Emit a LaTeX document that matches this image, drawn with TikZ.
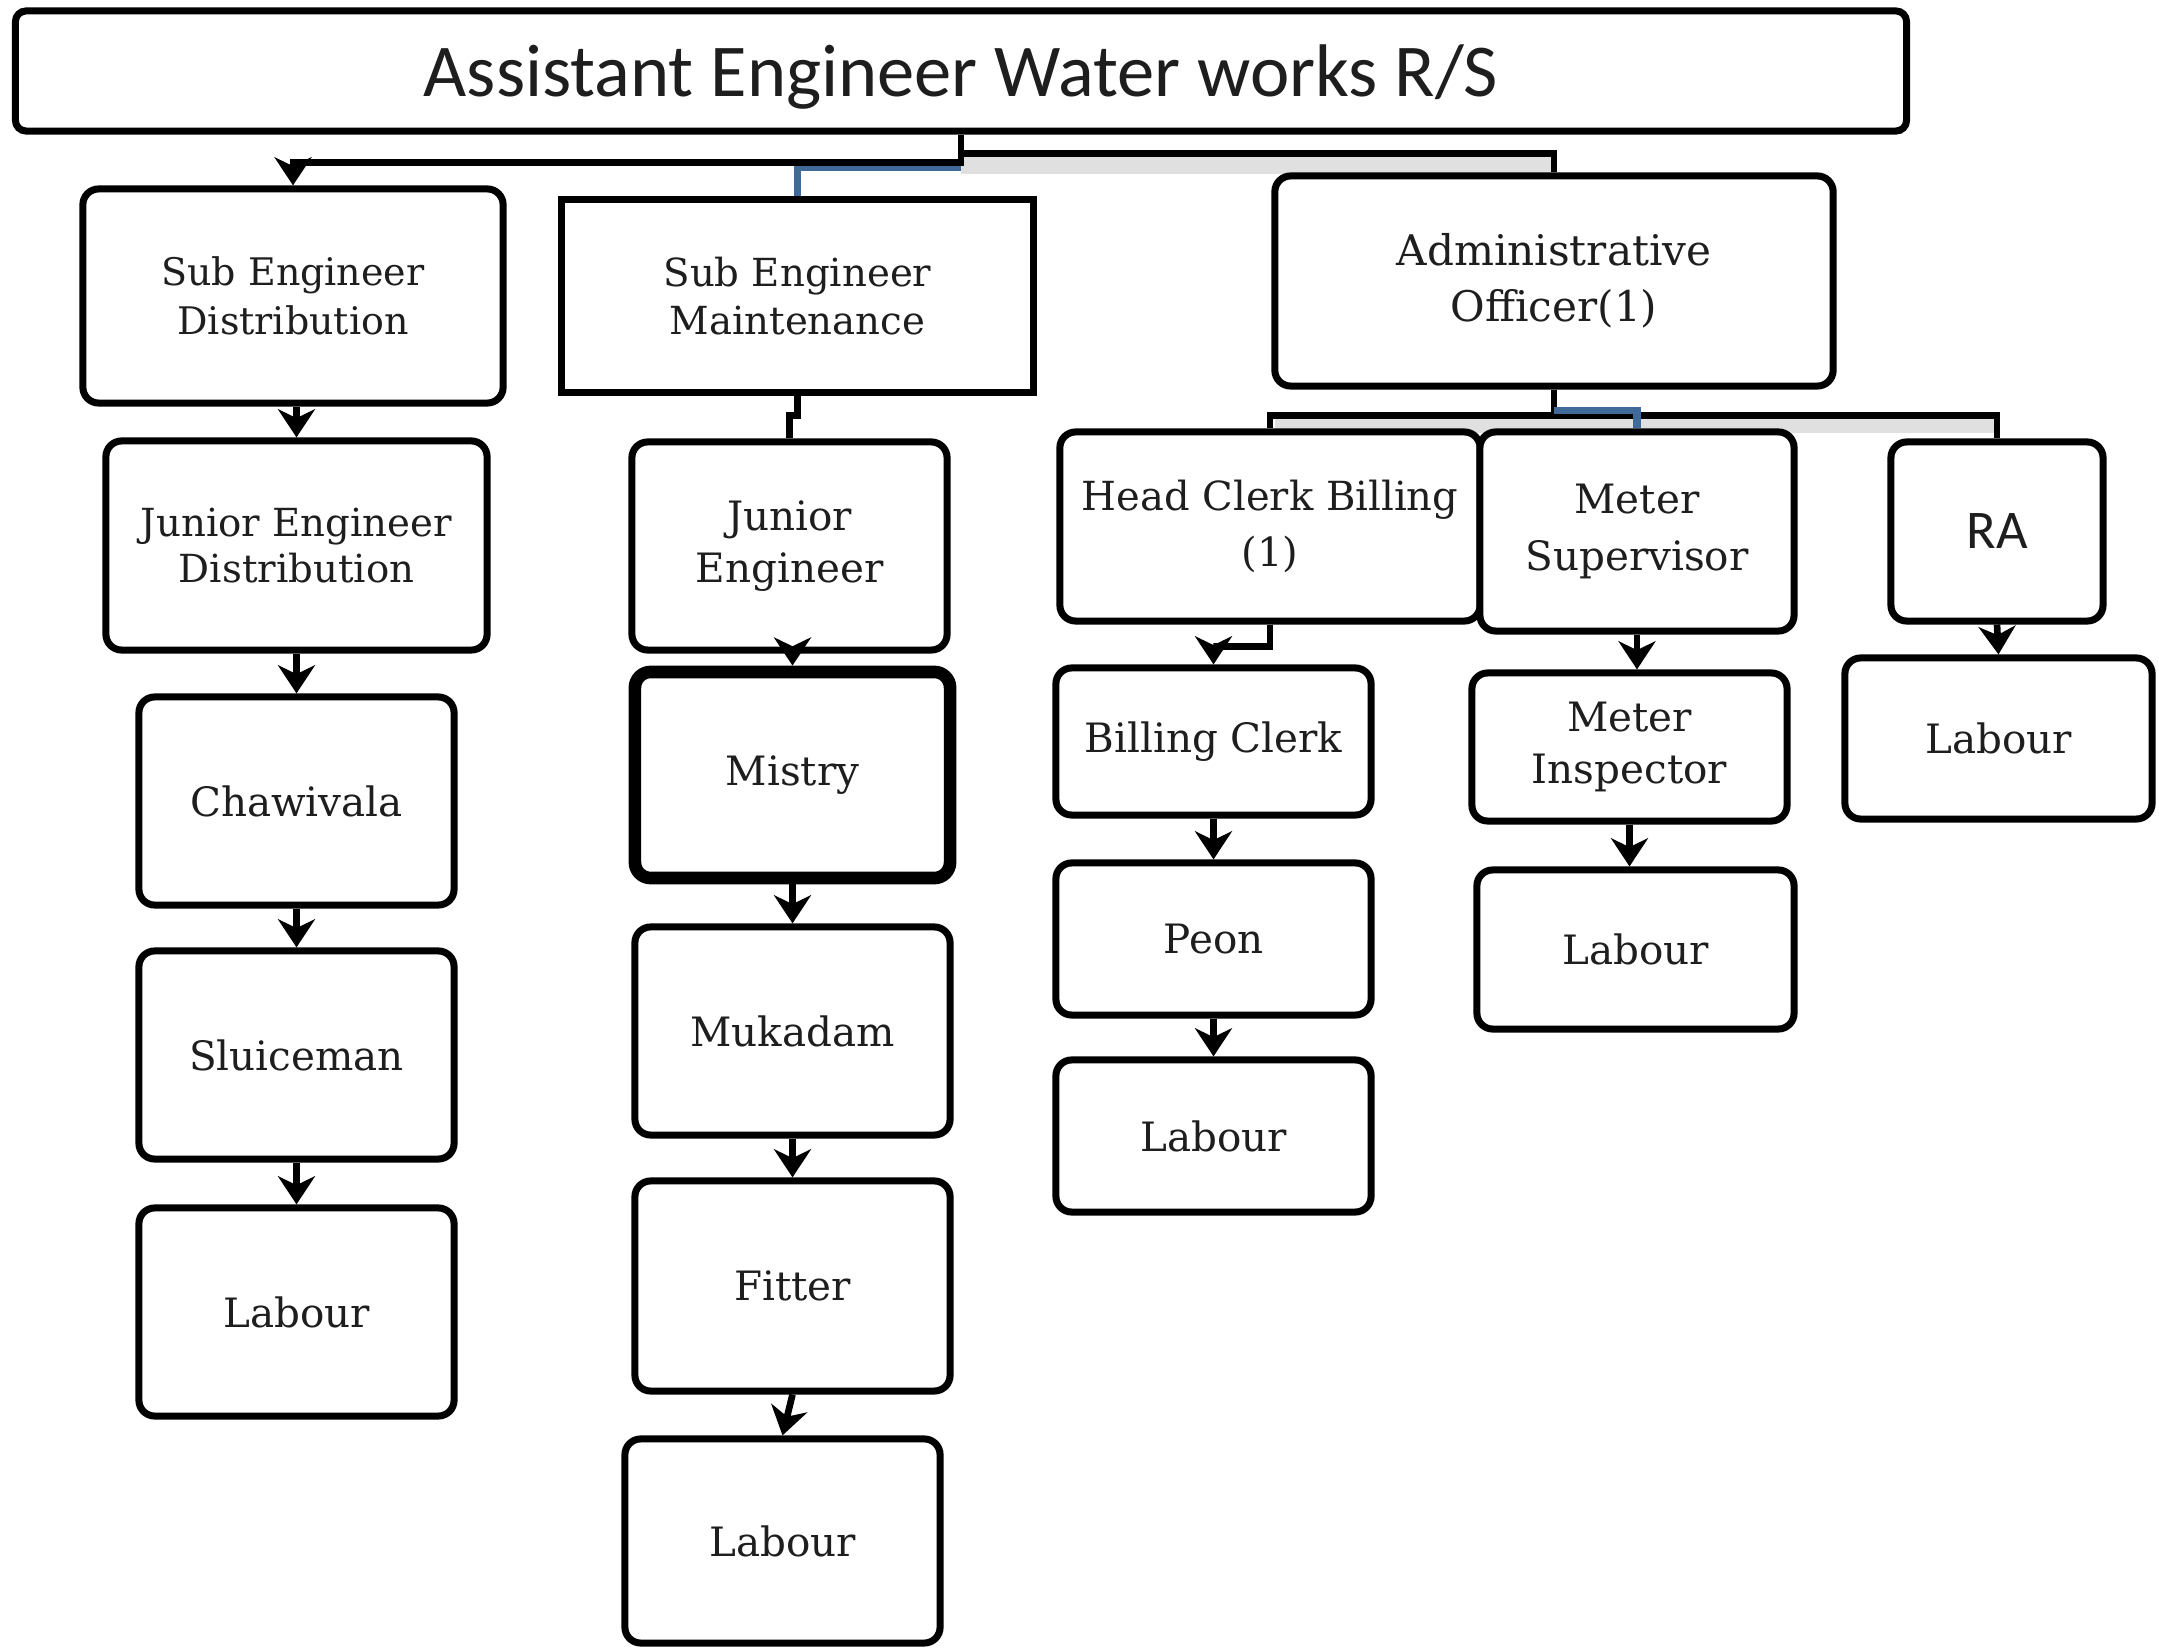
\documentclass[tikz,border=0pt]{standalone}
\usepackage{fontspec}
\setmainfont{DejaVu Serif}
\newfontfamily\calib{Carlito}
\usetikzlibrary{arrows.meta,calc}
\definecolor{refblue}{RGB}{63,106,154}
\definecolor{txt}{RGB}{30,30,30}
\begin{document}
\begin{tikzpicture}[x=0.01cm,y=-0.01cm,
  box/.style={draw,line width=2pt,rounded corners=4.5pt,align=center,inner sep=0pt,fill=white,text=txt,
    font=\fontsize{11.5}{13}\selectfont},
  sharpbox/.style={box,rounded corners=0pt},
  thickbox/.style={box,line width=3.6pt},
  conn/.style={line width=1.9pt},
  arr/.style={conn,-{Stealth[length=8pt,width=10.5pt,inset=2.5pt]}},
  blueline/.style={line width=2.2pt,draw=refblue},
  shade/.style={line width=5pt,draw=black!12}]
\fill[white] (0,0) rectangle (2159,1649);
\useasboundingbox (0,0) rectangle (2159,1649);

% shadows under connectors
\draw[shade] (961,165) -- (1556,165);
\draw[shade] (1275,424) -- (1997,424);

% boxes
\node[box,rounded corners=3pt,minimum width=18.90cm,minimum height=1.20cm,font=\calib\fontsize{21.2}{24}\selectfont] (title) at (961,71) {\raisebox{-7.2pt}[0pt][0pt]{Assistant Engineer Water works R/S}};
\node[box,minimum width=4.20cm,minimum height=2.14cm,font=\fontsize{10.8}{13.8}\selectfont] (sed) at (293,296) {Sub Engineer\\Distribution};
\node[sharpbox,minimum width=4.71cm,minimum height=1.92cm,font=\fontsize{11}{13.8}\selectfont] (sem) at (797.5,296) {Sub Engineer\\Maintenance};
\node[box,minimum width=5.58cm,minimum height=2.10cm,font=\fontsize{12}{15.8}\selectfont] (ao) at (1554,281) {Administrative\\Officer(1)};

\node[box,minimum width=3.81cm,minimum height=2.09cm,font=\fontsize{11}{13.2}\selectfont] (jed) at (296.5,545.5) {Junior Engineer\\Distribution};
\node[box,minimum width=3.15cm,minimum height=2.08cm,font=\fontsize{11.5}{14.6}\selectfont] (je) at (789.5,546) {Junior\\Engineer};
\node[box,minimum width=4.20cm,minimum height=1.89cm,font=\fontsize{11.4}{16}\selectfont] (hc) at (1270,526.5) {Head Clerk Billing\\(1)};
\node[box,minimum width=3.14cm,minimum height=1.99cm,font=\fontsize{11.5}{16}\selectfont] (ms) at (1637,531.5) {Meter\\Supervisor};
\node[box,minimum width=2.12cm,minimum height=1.79cm,font=\calib\fontsize{15.5}{18}\selectfont] (ra) at (1997,531.5) {RA};

\node[box,minimum width=3.15cm,minimum height=2.08cm] (chaw) at (296.5,801) {Chawivala};
\node[thickbox,minimum width=3.15cm,minimum height=2.06cm] (mistry) at (792.5,775) {Mistry};
\node[box,minimum width=3.15cm,minimum height=1.47cm] (bc) at (1213.5,741.5) {Billing Clerk};
\node[box,minimum width=3.15cm,minimum height=1.48cm,font=\fontsize{11.5}{15}\selectfont] (mi) at (1629.5,747) {Meter\\Inspector};
\node[box,minimum width=3.07cm,minimum height=1.61cm] (labra) at (1998.5,738.5) {Labour};

\node[box,minimum width=3.15cm,minimum height=2.08cm] (sluice) at (296.5,1055) {Sluiceman};
\node[box,minimum width=3.15cm,minimum height=2.08cm] (muk) at (792.5,1031) {Mukadam};
\node[box,minimum width=3.15cm,minimum height=1.52cm] (peon) at (1213.5,939) {Peon};
\node[box,minimum width=3.17cm,minimum height=1.59cm] (labms) at (1635.5,949.5) {Labour};

\node[box,minimum width=3.15cm,minimum height=1.52cm] (labbc) at (1213.5,1136) {Labour};
\node[box,minimum width=3.15cm,minimum height=2.08cm] (labd) at (296.5,1312) {Labour};
\node[box,minimum width=3.15cm,minimum height=2.10cm] (fitter) at (792.5,1286) {Fitter};
\node[box,minimum width=3.15cm,minimum height=2.04cm] (labm) at (782.5,1541) {Labour};

% connectors from title
\draw[conn] (title.south) -- ++(0,19) -| (ao.north);
\draw[blueline] ($(title.south)+(0,33)$) -| (sem.north);
\draw[arr] (title.south) -- ++(0,28) -| (sed.north);

% distribution column
\draw[arr] (jed.north |- sed.south) -- (jed.north);
\draw[arr] (jed.south) -- (chaw.north);
\draw[arr] (chaw.south) -- (sluice.north);
\draw[arr] (sluice.south) -- (labd.north);

% maintenance column
\draw[conn] (sem.south) -- ++(0,20) -| (je.north);
\draw[arr] ($(mistry.north |- je.south)+(0,-8)$) -- (mistry.north);
\draw[arr] (mistry.south) -- (muk.north);
\draw[arr] (muk.south) -- (fitter.north);
\draw[arr] (fitter.south) -- (labm.north);

% administrative branch
\draw[conn] (ao.south) -- ++(0,26) coordinate (aoj);
\draw[conn] (hc.north) |- (aoj) -| (ra.north);
\draw[blueline] ($(ao.south)+(0,21)$) -| (ms.north);
\draw[arr] (hc.south) -- ++(0,22) -| (bc.north);
\draw[arr] (ms.south) -- (ms.south |- mi.north);
\draw[arr] (ra.south) -- (labra.north);
\draw[arr] (bc.south) -- (peon.north);
\draw[arr] (peon.south) -- (labbc.north);
\draw[arr] (mi.south) -- (mi.south |- labms.north);
\end{tikzpicture}
\end{document}
